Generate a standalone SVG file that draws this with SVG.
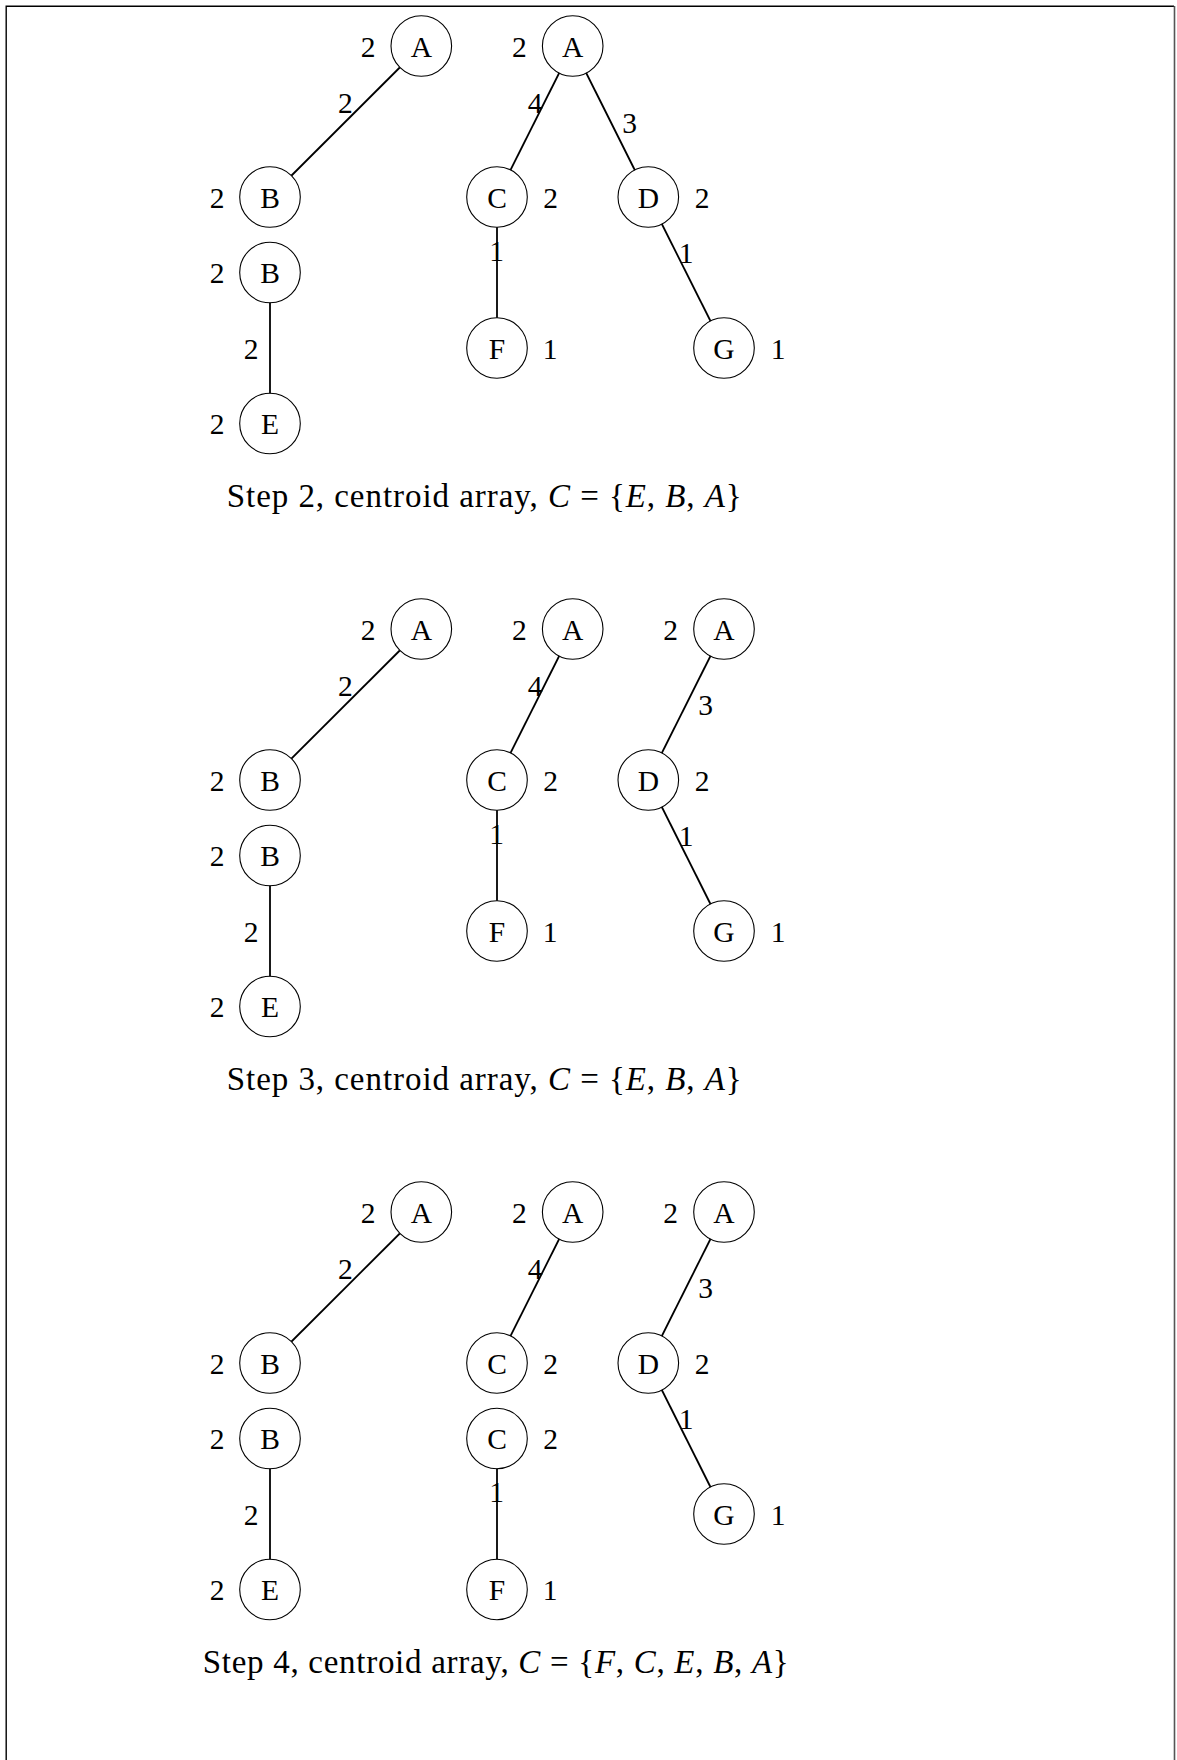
<svg xmlns="http://www.w3.org/2000/svg" width="1177" height="1760" viewBox="0 0 1177 1760">
<style>
.n circle{fill:#fff;stroke:#000;stroke-width:1.1}
.t{font-family:"Liberation Serif","Times New Roman",serif;font-size:29.5px;text-anchor:middle;fill:#000}
.cap{font-family:"Liberation Serif","Times New Roman",serif;font-size:33px;fill:#000}
.i{font-style:italic}
.e line{stroke:#000;stroke-width:1.8}
</style>
<rect width="1177" height="1760" fill="#fff"/>
<path d="M6.2,1760 V6.2 H1174" fill="none" stroke="#000" stroke-width="1.4"/>
<line x1="1174.5" y1="6" x2="1174.5" y2="1760" stroke="#555" stroke-width="1.6"/>

<g id="connectors" class="e">
  <line x1="421.3" y1="46" x2="270" y2="197"/>
  <line x1="270" y1="272.5" x2="270" y2="423.5"/>
  <line x1="572.7" y1="46" x2="497" y2="197"/>
  <line x1="572.7" y1="46" x2="648.3" y2="197"/>
  <line x1="497" y1="197" x2="497" y2="348"/>
  <line x1="648.3" y1="197" x2="724" y2="348"/>
  <line x1="421.3" y1="629" x2="270" y2="780"/>
  <line x1="270" y1="855.5" x2="270" y2="1006.5"/>
  <line x1="572.7" y1="629" x2="497" y2="780"/>
  <line x1="497" y1="780" x2="497" y2="931"/>
  <line x1="724" y1="629" x2="648.3" y2="780"/>
  <line x1="648.3" y1="780" x2="724" y2="931"/>
  <line x1="421.3" y1="1212" x2="270" y2="1363"/>
  <line x1="270" y1="1438.5" x2="270" y2="1589.5"/>
  <line x1="572.7" y1="1212" x2="497" y2="1363"/>
  <line x1="497" y1="1438.5" x2="497" y2="1589.5"/>
  <line x1="724" y1="1212" x2="648.3" y2="1363"/>
  <line x1="648.3" y1="1363" x2="724" y2="1514"/>
</g>

<g id="s2-A1" class="n"><circle cx="421.3" cy="46" r="30.3"/><text class="t" x="421.3" y="56.5">A</text><text class="t" x="368" y="56.5">2</text></g>
<g id="s2-B1" class="n"><circle cx="270" cy="197" r="30.3"/><text class="t" x="270" y="207.5">B</text><text class="t" x="217" y="207.5">2</text></g>
<g id="s2-B2" class="n"><circle cx="270" cy="272.5" r="30.3"/><text class="t" x="270" y="283">B</text><text class="t" x="217" y="283">2</text></g>
<g id="s2-E" class="n"><circle cx="270" cy="423.5" r="30.3"/><text class="t" x="270" y="434">E</text><text class="t" x="217" y="434">2</text></g>
<g id="s2-A2" class="n"><circle cx="572.7" cy="46" r="30.3"/><text class="t" x="572.7" y="56.5">A</text><text class="t" x="519.3" y="56.5">2</text></g>
<g id="s2-C" class="n"><circle cx="497" cy="197" r="30.3"/><text class="t" x="497" y="207.5">C</text><text class="t" x="550.5" y="207.5">2</text></g>
<g id="s2-D" class="n"><circle cx="648.3" cy="197" r="30.3"/><text class="t" x="648.3" y="207.5">D</text><text class="t" x="702" y="207.5">2</text></g>
<g id="s2-F" class="n"><circle cx="497" cy="348" r="30.3"/><text class="t" x="497" y="358.5">F</text><text class="t" x="550" y="358.5">1</text></g>
<g id="s2-G" class="n"><circle cx="724" cy="348" r="30.3"/><text class="t" x="724" y="358.5">G</text><text class="t" x="778" y="358.5">1</text></g>

<g id="s3-A1" class="n"><circle cx="421.3" cy="629" r="30.3"/><text class="t" x="421.3" y="639.5">A</text><text class="t" x="368" y="639.5">2</text></g>
<g id="s3-B1" class="n"><circle cx="270" cy="780" r="30.3"/><text class="t" x="270" y="790.5">B</text><text class="t" x="217" y="790.5">2</text></g>
<g id="s3-B2" class="n"><circle cx="270" cy="855.5" r="30.3"/><text class="t" x="270" y="866">B</text><text class="t" x="217" y="866">2</text></g>
<g id="s3-E" class="n"><circle cx="270" cy="1006.5" r="30.3"/><text class="t" x="270" y="1017">E</text><text class="t" x="217" y="1017">2</text></g>
<g id="s3-A2" class="n"><circle cx="572.7" cy="629" r="30.3"/><text class="t" x="572.7" y="639.5">A</text><text class="t" x="519.3" y="639.5">2</text></g>
<g id="s3-C" class="n"><circle cx="497" cy="780" r="30.3"/><text class="t" x="497" y="790.5">C</text><text class="t" x="550.5" y="790.5">2</text></g>
<g id="s3-F" class="n"><circle cx="497" cy="931" r="30.3"/><text class="t" x="497" y="941.5">F</text><text class="t" x="550" y="941.5">1</text></g>
<g id="s3-A3" class="n"><circle cx="724" cy="629" r="30.3"/><text class="t" x="724" y="639.5">A</text><text class="t" x="670.5" y="639.5">2</text></g>
<g id="s3-D" class="n"><circle cx="648.3" cy="780" r="30.3"/><text class="t" x="648.3" y="790.5">D</text><text class="t" x="702" y="790.5">2</text></g>
<g id="s3-G" class="n"><circle cx="724" cy="931" r="30.3"/><text class="t" x="724" y="941.5">G</text><text class="t" x="778" y="941.5">1</text></g>

<g id="s4-A1" class="n"><circle cx="421.3" cy="1212" r="30.3"/><text class="t" x="421.3" y="1222.5">A</text><text class="t" x="368" y="1222.5">2</text></g>
<g id="s4-B1" class="n"><circle cx="270" cy="1363" r="30.3"/><text class="t" x="270" y="1373.5">B</text><text class="t" x="217" y="1373.5">2</text></g>
<g id="s4-B2" class="n"><circle cx="270" cy="1438.5" r="30.3"/><text class="t" x="270" y="1449">B</text><text class="t" x="217" y="1449">2</text></g>
<g id="s4-E" class="n"><circle cx="270" cy="1589.5" r="30.3"/><text class="t" x="270" y="1600">E</text><text class="t" x="217" y="1600">2</text></g>
<g id="s4-A2" class="n"><circle cx="572.7" cy="1212" r="30.3"/><text class="t" x="572.7" y="1222.5">A</text><text class="t" x="519.3" y="1222.5">2</text></g>
<g id="s4-C1" class="n"><circle cx="497" cy="1363" r="30.3"/><text class="t" x="497" y="1373.5">C</text><text class="t" x="550.5" y="1373.5">2</text></g>
<g id="s4-C2" class="n"><circle cx="497" cy="1438.5" r="30.3"/><text class="t" x="497" y="1449">C</text><text class="t" x="550.5" y="1449">2</text></g>
<g id="s4-F" class="n"><circle cx="497" cy="1589.5" r="30.3"/><text class="t" x="497" y="1600">F</text><text class="t" x="550" y="1600">1</text></g>
<g id="s4-A3" class="n"><circle cx="724" cy="1212" r="30.3"/><text class="t" x="724" y="1222.5">A</text><text class="t" x="670.5" y="1222.5">2</text></g>
<g id="s4-D" class="n"><circle cx="648.3" cy="1363" r="30.3"/><text class="t" x="648.3" y="1373.5">D</text><text class="t" x="702" y="1373.5">2</text></g>
<g id="s4-G" class="n"><circle cx="724" cy="1514" r="30.3"/><text class="t" x="724" y="1524.5">G</text><text class="t" x="778" y="1524.5">1</text></g>

<g id="edge-labels">
  <text class="t" x="345.3" y="112.5">2</text>
  <text class="t" x="251" y="359">2</text>
  <text class="t" x="535" y="112.5">4</text>
  <text class="t" x="629.6" y="132.5">3</text>
  <text class="t" x="496.5" y="260.5">1</text>
  <text class="t" x="686" y="263">1</text>

  <text class="t" x="345.3" y="695.5">2</text>
  <text class="t" x="251" y="942">2</text>
  <text class="t" x="535" y="695.5">4</text>
  <text class="t" x="496.5" y="843.5">1</text>
  <text class="t" x="705.5" y="715">3</text>
  <text class="t" x="686" y="846">1</text>

  <text class="t" x="345.3" y="1278.5">2</text>
  <text class="t" x="251" y="1525">2</text>
  <text class="t" x="535" y="1278.5">4</text>
  <text class="t" x="496.5" y="1502">1</text>
  <text class="t" x="705.5" y="1298">3</text>
  <text class="t" x="686" y="1429">1</text>
</g>

<g id="captions">
  <text class="cap" x="226.7" y="507.3" textLength="515" lengthAdjust="spacing">Step 2, centroid array, <tspan class="i">C</tspan> = {<tspan class="i">E</tspan>, <tspan class="i">B</tspan>, <tspan class="i">A</tspan>}</text>
  <text class="cap" x="226.7" y="1090.3" textLength="515" lengthAdjust="spacing">Step 3, centroid array, <tspan class="i">C</tspan> = {<tspan class="i">E</tspan>, <tspan class="i">B</tspan>, <tspan class="i">A</tspan>}</text>
  <text class="cap" x="202.7" y="1673.3" textLength="586" lengthAdjust="spacing">Step 4, centroid array, <tspan class="i">C</tspan> = {<tspan class="i">F</tspan>, <tspan class="i">C</tspan>, <tspan class="i">E</tspan>, <tspan class="i">B</tspan>, <tspan class="i">A</tspan>}</text>
</g>
</svg>
